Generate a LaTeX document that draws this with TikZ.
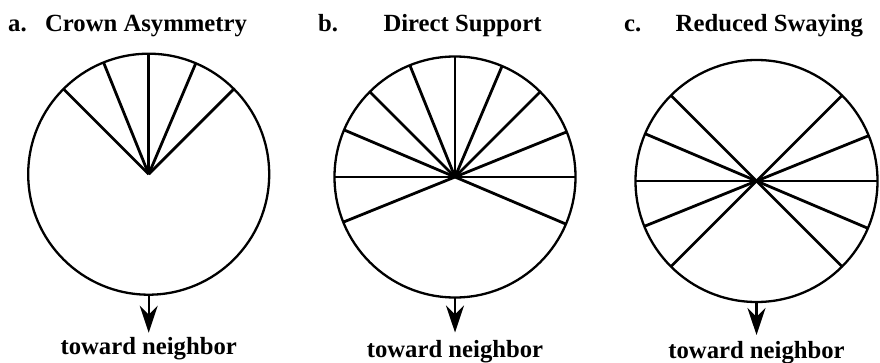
\documentclass[tikz,border=0pt]{standalone}
\usepackage{fontspec}
\setmainfont{Liberation Serif}
\usetikzlibrary{positioning,arrows.meta}

\begin{document}
\begin{tikzpicture}[x=1pt, y=1pt,
    crown/.style={draw, circle, line width=2.3pt, outer sep=0pt, inner sep=0pt, minimum size=241pt},
    spoke/.style={line width=2.8pt},
    toward/.style={line width=2.3pt, -{Stealth[length=27pt, width=18pt, inset=9pt]}},
    caption/.style={font=\fontsize{24.7}{28}\selectfont\bfseries, inner sep=0pt},
    title/.style={font=\fontsize{24.7}{28}\selectfont\bfseries, inner sep=0pt, anchor=base west}]

    \useasboundingbox (0,0) rectangle (880,362);

    % Define nodes

    \node[crown]                          (crownA) at (148.7,187.8) {}; %
    \node[crown]                          (crownB) at (455,185) {}; %
    \node[crown, minimum size=242pt]      (crownC) at (756.5,181) {}; %

    % Titles
    \node[title]                          (letA) at (8,330) {a.}; %
    \node[title, base right=18pt of letA] (titleA) {Crown Asymmetry}; %
    \node[title]                          (letB) at (318,330) {b.}; %
    \node[title, base right=45pt of letB] (titleB) {Direct Support}; %
    \node[title]                          (letC) at (624,330) {c.}; %
    \node[title, base right=34pt of letC] (titleC) {Reduced Swaying}; %

    % Spokes
    \foreach \ang in {45, 67.5, 90, 112.5, 135}
      \draw[spoke] (crownA.center) -- (crownA.\ang);
    \foreach \ang in {337.5, 0, 22.5, 45, 67.5, 90, 112.5, 135, 157.5, 180, 202.5}
      \draw[spoke] (crownB.center) -- (crownB.\ang);
    \foreach \ang in {0, 22.5, 45, 135, 157.5, 180, 202.5, 225, 315, 337.5}
      \draw[spoke] (crownC.center) -- (crownC.\ang);

    % Neighbor arrows
    \coordinate[below=38pt of crownA.south] (tipA); %
    \coordinate[below=35pt of crownB.south] (tipB); %
    \coordinate[below=33pt of crownC.south] (tipC); %
    \draw[toward] (crownA.south) -- (tipA);
    \draw[toward] (crownB.south) -- (tipB);
    \draw[toward] (crownC.south) -- (tipC);

    \node[caption, below=4pt of tipA]     (nbA) {toward neighbor}; %
    \node[caption, below=8pt of tipB]     (nbB) {toward neighbor}; %
    \node[caption, below=6pt of tipC]     (nbC) {toward neighbor}; %

\end{tikzpicture}
\end{document}
